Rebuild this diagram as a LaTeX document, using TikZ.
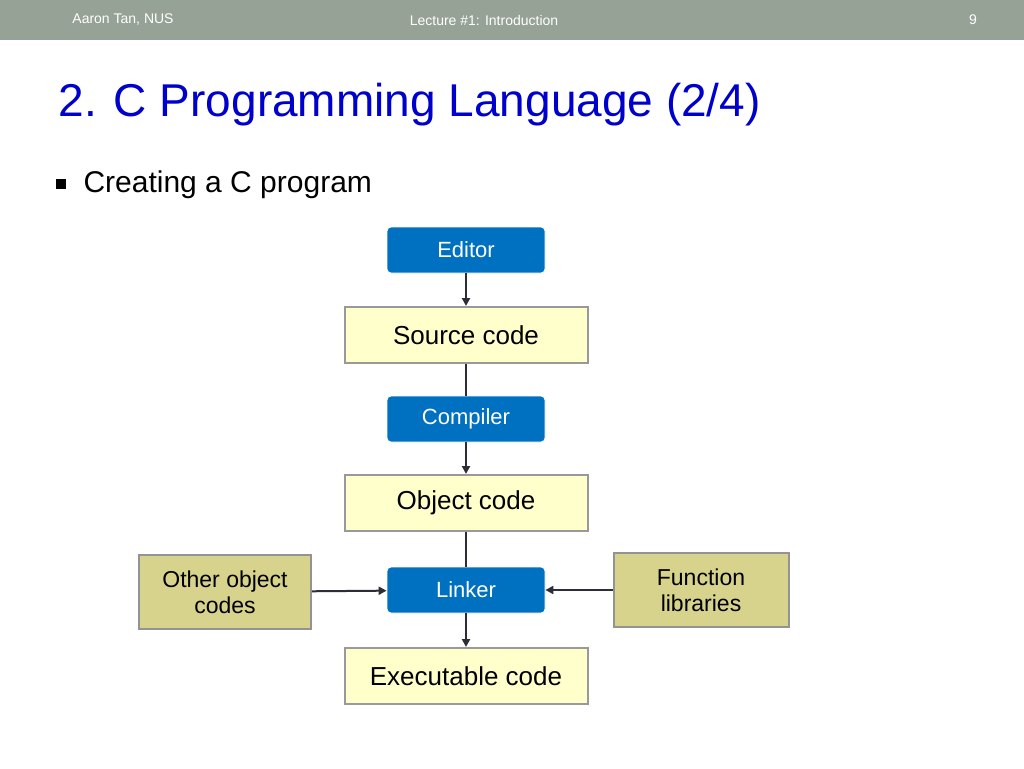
\documentclass[tikz,border=0pt]{standalone}
\usepackage{fontspec}
\setmainfont{Liberation Sans}
\usetikzlibrary{arrows.meta}
\definecolor{hdr}{RGB}{150,162,150}
\definecolor{tblue}{RGB}{0,0,204}
\definecolor{pblue}{RGB}{0,112,192}
\definecolor{lyel}{RGB}{255,255,204}
\definecolor{oliv}{RGB}{215,210,140}
\definecolor{ln}{RGB}{45,45,55}
\begin{document}
\begin{tikzpicture}[x=1pt,y=-1pt,
 proc/.style={draw=white,line width=0.8pt,fill=pblue,rounded corners=4pt,minimum width=158pt,minimum height=46pt,text=white,font=\fontsize{22}{24}\selectfont},
 code/.style={draw=gray!80,line width=2pt,fill=lyel,minimum width=243pt,minimum height=56pt,font=\fontsize{26}{28}\selectfont},
 side/.style={draw=gray!85,line width=2pt,fill=oliv,align=center,font=\fontsize{23}{26}\selectfont},
 arr/.style={draw=ln,line width=2pt,-{Triangle[length=8pt,width=8pt]}},
 lin/.style={draw=ln,line width=2pt}]
\useasboundingbox (0,0) rectangle (1024,768);
\fill[white] (0,0) rectangle (1024,768);
\fill[hdr] (0,0) rectangle (1024,40);
\node[text=white,font=\fontsize{14}{16}\selectfont] (h1) at (123,20) {Aaron Tan, NUS};
\node[text=white,font=\fontsize{14}{16}\selectfont] (h2) at (484,20) {Lecture \#1: Introduction};
\node[text=white,font=\fontsize{14}{16}\selectfont] (h3) at (973,20) {9};
\node[anchor=west,text=tblue,font=\fontsize{46}{50}\selectfont] (title) at (55,105) {2. C Programming Language (2/4)};
\node[anchor=west,font=\fontsize{30}{34}\selectfont] (bul) at (80,185) {Creating a C program};
\fill[black] (56,179) rectangle (66,189);
\node[proc] (ed) at (466,250) {Editor};
\node[code] (src) at (466,335) {Source code};
\node[proc] (comp) at (466,419) {Compiler};
\node[code] (obj) at (466,503) {Object code};
\node[proc] (link) at (466,590) {Linker};
\node[code] (exe) at (466,676) {Executable code};
\node[side,minimum width=172pt,minimum height=74pt] (oth) at (225,592) {Other object\\codes};
\node[side,minimum width=175pt,minimum height=74pt] (fun) at (701,590) {Function\\libraries};
\draw[arr] (ed) -- (src);
\draw[lin] (src) -- (comp);
\draw[arr] (comp) -- (obj);
\draw[lin] (obj) -- (link);
\draw[arr] (link) -- (exe);
\draw[arr] (oth) -- (link);
\draw[arr] (fun) -- (link);
\end{tikzpicture}
\end{document}
